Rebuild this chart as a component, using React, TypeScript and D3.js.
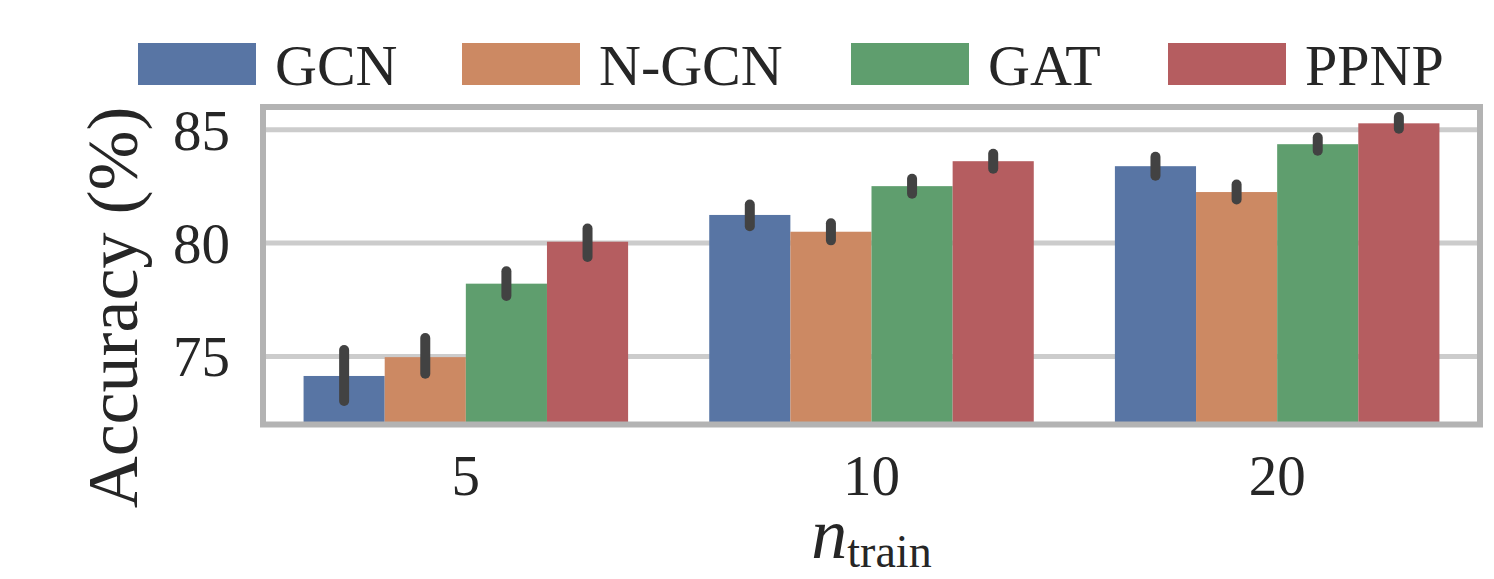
import React from "react";
import * as d3 from "d3";

const categories = ["5", "10", "20"];
const methods = ["GCN", "N-GCN", "GAT", "PPNP"];
const colors = ["#5875a4", "#cc8963", "#5f9e6e", "#b55d60"];

// mean accuracy per method, per category (n_train = 5, 10, 20)
const meanGCN = [74.14, 81.24, 83.39];
const meanNGCN = [74.97, 80.5, 82.25];
const meanGAT = [78.21, 82.51, 84.36];
const meanPPNP = [80.06, 83.61, 85.28];

// confidence interval bounds
const lowGCN = [73.04, 80.74, 82.97];
const highGCN = [75.28, 81.7, 83.81];
const lowNGCN = [74.24, 80.12, 81.92];
const highNGCN = [75.81, 80.87, 82.58];
const lowGAT = [77.67, 82.18, 84.07];
const highGAT = [78.76, 82.84, 84.65];
const lowPPNP = [79.39, 83.28, 85.04];
const highPPNP = [80.64, 83.94, 85.56];

const yTicks = [75, 80, 85];

const means = [meanGCN, meanNGCN, meanGAT, meanPPNP];
const lows = [lowGCN, lowNGCN, lowGAT, lowPPNP];
const highs = [highGCN, highNGCN, highGAT, highPPNP];

const W = 1494;
const H = 579;
const L = 263, R = 1480, T = 107, B = 424.5;
const FONT = "'Liberation Serif', 'DejaVu Serif', serif";
const TXT = "#262626";

export default function App() {
  const x = d3.scaleBand<string>().domain(categories).range([L, R]).padding(0);
  const bw = x.bandwidth();
  const inner = d3.scaleBand<string>().domain(methods).range([bw * 0.1, bw * 0.9]).padding(0);
  const y = d3.scaleLinear().domain([72, 86]).range([B, T]);

  const legendX = [138, 462, 851, 1168];

  return (
    <svg width={W} height={H} style={{ position: "absolute", left: 0, top: 0 }}>
      <rect width={W} height={H} fill="#fff" />
      {/* grid */}
      {yTicks.map((t) => (
        <line key={t} x1={L} x2={R} y1={y(t)} y2={y(t)} stroke="#cccccc" strokeWidth={5} />
      ))}
      {/* bars */}
      {methods.map((m, mi) =>
        categories.map((c, ci) => (
          <rect
            key={m + c}
            x={(x(c) as number) + (inner(m) as number)}
            width={inner.bandwidth()}
            y={y(means[mi][ci])}
            height={y(72) - y(means[mi][ci])}
            fill={colors[mi]}
          />
        ))
      )}
      {/* error bars */}
      {methods.map((m, mi) =>
        categories.map((c, ci) => {
          const cx = (x(c) as number) + (inner(m) as number) + inner.bandwidth() / 2;
          return (
            <line
              key={"e" + m + c}
              x1={cx}
              x2={cx}
              y1={y(lows[mi][ci])}
              y2={y(highs[mi][ci])}
              stroke="#424242"
              strokeWidth={10}
              strokeLinecap="round"
            />
          );
        })
      )}
      {/* frame */}
      <rect x={L} y={T} width={R - L} height={B - T} fill="none" stroke="#b3b3b3" strokeWidth={6} />
      {/* y tick labels */}
      {yTicks.map((t) => (
        <text
          key={"yt" + t}
          x={230}
          y={y(t)}
          dy="0.35em"
          textAnchor="end"
          fontFamily={FONT}
          fontSize={57}
          fill={TXT}
        >
          {t}
        </text>
      ))}
      {/* x tick labels */}
      {categories.map((c) => (
        <text
          key={"xt" + c}
          x={(x(c) as number) + bw / 2}
          y={495}
          textAnchor="middle"
          fontFamily={FONT}
          fontSize={57}
          fill={TXT}
        >
          {c}
        </text>
      ))}
      {/* y label */}
      <text
        transform="translate(137,307.5) rotate(-90)"
        textAnchor="middle"
        fontFamily={FONT}
        fontSize={72}
        fill={TXT}
      >
        Accuracy (%)
      </text>
      {/* x label */}
      <text x={(L + R) / 2} y={558} textAnchor="middle" fontFamily={FONT} fill={TXT}>
        <tspan fontStyle="italic" fontSize={72}>n</tspan>
        <tspan fontSize={46} dy={9}>train</tspan>
      </text>
      {/* legend */}
      {methods.map((m, mi) => (
        <g key={"lg" + m}>
          <rect x={legendX[mi]} y={43} width={118} height={42} fill={colors[mi]} />
          <text x={legendX[mi] + 137} y={85} fontFamily={FONT} fontSize={58} fill={TXT}>
            {m}
          </text>
        </g>
      ))}
    </svg>
  );
}
